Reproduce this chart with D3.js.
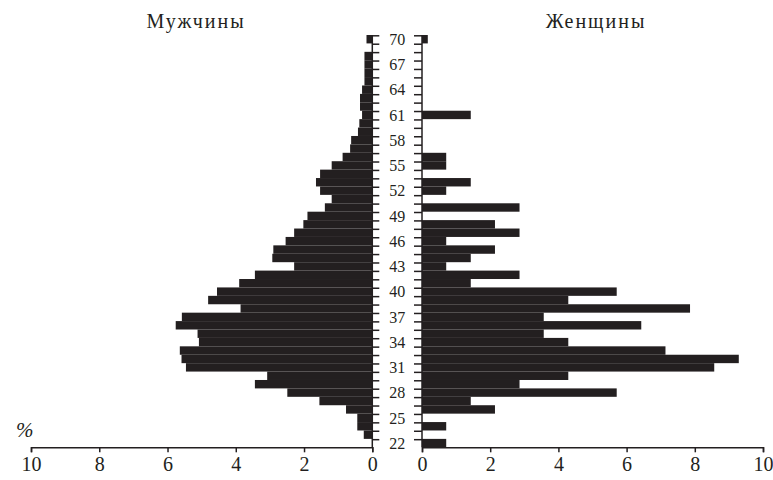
<!DOCTYPE html>
<html>
<head>
<meta charset="utf-8">
<script src="https://cdn.jsdelivr.net/npm/d3@7"></script>
<style>
  body { margin: 0; background: #fff; }
  text { font-family: "Liberation Serif", "DejaVu Serif", serif; fill: #231f20; }
</style>
</head>
<body>
<div id="chart"></div>
<script>
// Ages from oldest to youngest (top to bottom)
const ages = d3.range(70, 21, -1);

// Share of each age, %
const men = [0.17, 0, 0.23, 0.23, 0.23, 0.23, 0.3, 0.36, 0.36, 0.3,
  0.38, 0.42, 0.62, 0.65, 0.87, 1.19, 1.53, 1.65, 1.53, 1.19,
  1.39, 1.9, 2.02, 2.29, 2.54, 2.9, 2.93, 2.29, 3.44, 3.9,
  4.55, 4.81, 3.86, 5.58, 5.76, 5.12, 5.08, 5.64, 5.59, 5.46,
  3.08, 3.44, 2.49, 1.55, 0.77, 0.44, 0.44, 0.25, 0];
const women = [0.17, 0, 0, 0, 0, 0, 0, 0, 0, 1.43,
  0, 0, 0, 0, 0.71, 0.71, 0, 1.43, 0.71, 0,
  2.86, 0, 2.14, 2.86, 0.71, 2.14, 1.43, 0.71, 2.86, 1.43,
  5.71, 4.29, 7.86, 3.57, 6.43, 3.57, 4.29, 7.14, 9.29, 8.57,
  4.29, 2.86, 5.71, 1.43, 2.14, 0, 0.71, 0, 0.71];

const ageLabels = [70, 67, 64, 61, 58, 55, 52, 49, 46, 43, 40, 37, 34, 31, 28, 25, 22];
const pctTicks = [0, 2, 4, 6, 8, 10];

const width = 773, height = 480;
const barColour = "#231f20";

const svg = d3.select("#chart")
  .append("svg")
  .attr("width", width)
  .attr("height", height);

// Scales
const y = d3.scaleBand()
  .domain(ages)
  .range([35, 447.3])
  .padding(0);
const xMen = d3.scaleLinear().domain([0, 10]).range([372.3, 31]);
const xWomen = d3.scaleLinear().domain([0, 10]).range([422, 763]);

// Bars
svg.append("g")
  .selectAll("rect")
  .data(ages.map((a, i) => ({ age: a, v: men[i] })))
  .enter()
  .append("rect")
  .attr("x", d => xMen(d.v))
  .attr("y", d => y(d.age))
  .attr("width", d => xMen(0) - xMen(d.v))
  .attr("height", y.bandwidth())
  .attr("fill", barColour);

svg.append("g")
  .selectAll("rect")
  .data(ages.map((a, i) => ({ age: a, v: women[i] })))
  .enter()
  .append("rect")
  .attr("x", xWomen(0))
  .attr("y", d => y(d.age))
  .attr("width", d => xWomen(d.v) - xWomen(0))
  .attr("height", y.bandwidth())
  .attr("fill", barColour);

// Bottom axes
const axisStyle = function (g) {
  g.select(".domain").attr("stroke", barColour).attr("stroke-width", 1.5);
  g.selectAll(".tick line").attr("stroke", barColour).attr("stroke-width", 1.5);
  g.selectAll(".tick text")
    .attr("fill", barColour)
    .style("font-family", "'Liberation Serif', serif")
    .style("font-size", "20px");
};

svg.append("g")
  .attr("transform", "translate(0,447.3)")
  .call(d3.axisBottom(xMen).tickValues(pctTicks).tickSizeOuter(0).tickSize(5).tickPadding(5))
  .call(axisStyle);

svg.append("g")
  .attr("transform", "translate(0,447.3)")
  .call(d3.axisBottom(xWomen).tickValues(pctTicks).tickSizeOuter(0).tickSize(5).tickPadding(5))
  .call(axisStyle);

// Age axes: two vertical lines with a tick at every year boundary
const bounds = ages.map(a => y(a)).concat([y.range()[1]]);
const ageAxis = svg.append("g").attr("stroke", barColour).attr("stroke-width", 1.5);
ageAxis.append("line")
  .attr("x1", xMen(0)).attr("x2", xMen(0))
  .attr("y1", y.range()[0]).attr("y2", y.range()[1]);
ageAxis.append("line")
  .attr("x1", xWomen(0)).attr("x2", xWomen(0))
  .attr("y1", y.range()[0]).attr("y2", y.range()[1]);
ageAxis.selectAll(".tl")
  .data(bounds.slice(0, -1))
  .enter()
  .append("line")
  .attr("x1", xMen(0)).attr("x2", xMen(0) + 7)
  .attr("y1", d => d + 0.8).attr("y2", d => d + 0.8);
ageAxis.selectAll(".tr")
  .data(bounds.slice(0, -1))
  .enter()
  .append("line")
  .attr("x1", xWomen(0) - 8).attr("x2", xWomen(0))
  .attr("y1", d => d + 0.8).attr("y2", d => d + 0.8);

svg.append("g")
  .selectAll("text")
  .data(ageLabels)
  .enter()
  .append("text")
  .attr("x", (xMen(0) + xWomen(0)) / 2)
  .attr("y", d => y(d) + y.bandwidth() / 2)
  .attr("dy", "0.36em")
  .attr("text-anchor", "middle")
  .style("font-size", "16px")
  .text(d => d);

// Titles
svg.append("text")
  .attr("x", 196)
  .attr("y", 28)
  .attr("text-anchor", "middle")
  .style("font-size", "20px")
  .style("letter-spacing", "2px")
  .text("Мужчины");

svg.append("text")
  .attr("x", 596)
  .attr("y", 28)
  .attr("text-anchor", "middle")
  .style("font-size", "20px")
  .style("letter-spacing", "2px")
  .text("Женщины");

svg.append("text")
  .attr("x", 16)
  .attr("y", 437)
  .style("font-size", "21px")
  .style("font-style", "italic")
  .text("%");
</script>
</body>
</html>
